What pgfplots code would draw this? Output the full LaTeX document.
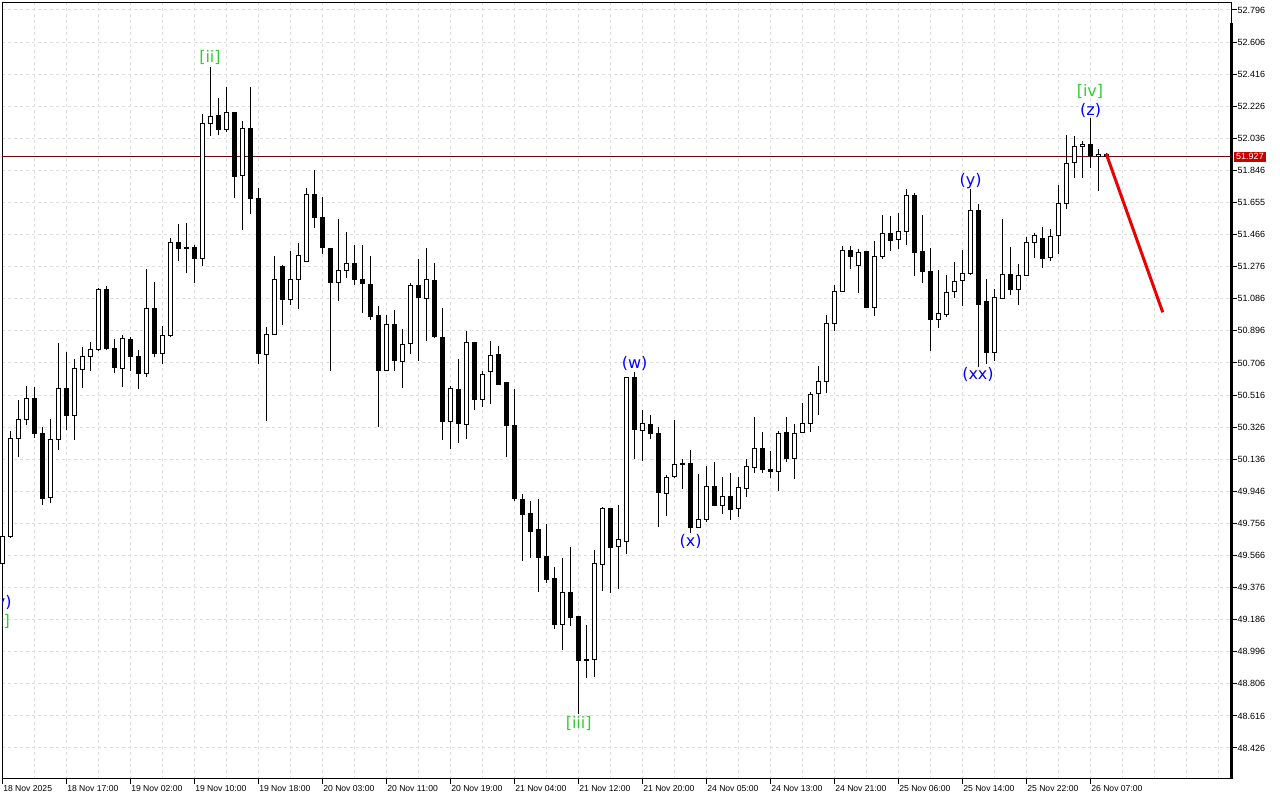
\documentclass[border=0pt]{standalone}
\usepackage{pgfplots}
\usepackage{pgfplotstable}
\usepackage{fontspec}
\setmainfont{Liberation Sans}
\newfontfamily\wavefont{DejaVu Sans}
\pgfplotsset{compat=1.18}
\definecolor{gridc}{RGB}{222,222,222}
\definecolor{wgreen}{RGB}{50,205,50}
\definecolor{wblue}{RGB}{0,0,255}
\definecolor{pline}{RGB}{110,10,10}
\definecolor{pbox}{RGB}{200,0,0}
\definecolor{arrowred}{RGB}{235,0,0}

\pgfplotstableread{
k o h l c
0 49.516 49.693 49.504 49.681
1 49.677 50.303 49.669 50.260
2 50.260 50.487 50.150 50.372
3 50.372 50.570 50.339 50.497
4 50.497 50.565 50.260 50.289
5 50.289 50.329 49.867 49.903
6 49.909 50.374 49.879 50.254
7 50.254 50.826 50.191 50.556
8 50.556 50.773 50.309 50.394
9 50.394 50.728 50.250 50.674
10 50.668 50.799 50.556 50.747
11 50.743 50.832 50.660 50.787
12 50.785 51.152 50.779 51.142
13 51.142 51.162 50.783 50.789
14 50.793 50.848 50.645 50.680
15 50.674 50.870 50.562 50.852
16 50.846 50.858 50.660 50.743
17 50.747 50.783 50.550 50.645
18 50.645 51.262 50.625 51.026
19 51.030 51.184 50.740 50.759
20 50.763 50.925 50.700 50.870
21 50.867 51.444 50.858 51.420
22 51.420 51.529 51.311 51.383
23 51.388 51.533 51.237 51.385
24 51.391 51.404 51.178 51.323
25 51.323 52.180 51.282 52.125
26 52.125 52.457 52.052 52.167
27 52.173 52.273 52.054 52.087
28 52.087 52.340 52.072 52.190
29 52.190 52.190 51.681 51.809
30 51.815 52.139 51.493 52.096
31 52.096 52.338 51.588 51.679
32 51.681 51.740 50.700 50.763
33 50.757 50.917 50.364 50.876
34 50.876 51.339 50.872 51.203
35 51.280 51.284 50.933 51.083
36 51.083 51.369 51.051 51.203
37 51.201 51.414 51.027 51.343
38 51.308 51.740 51.308 51.701
39 51.701 51.849 51.507 51.566
40 51.570 51.687 51.353 51.388
41 51.385 51.385 50.660 51.181
42 51.184 51.557 51.075 51.255
43 51.255 51.480 51.211 51.296
44 51.296 51.403 51.169 51.201
45 51.203 51.403 51.004 51.175
46 51.173 51.338 50.962 50.980
47 50.984 51.043 50.329 50.660
48 50.660 50.990 50.660 50.931
49 50.931 51.020 50.660 50.719
50 50.716 50.907 50.560 50.816
51 50.822 51.178 50.761 51.166
52 51.166 51.320 50.719 51.092
53 51.086 51.387 50.838 51.201
54 51.195 51.298 50.856 50.860
55 50.858 51.031 50.250 50.358
56 50.358 50.570 50.196 50.556
57 50.550 50.729 50.232 50.346
58 50.343 50.895 50.256 50.828
59 50.828 50.828 50.427 50.488
60 50.488 50.657 50.447 50.639
61 50.657 50.836 50.465 50.751
62 50.757 50.806 50.575 50.581
63 50.591 50.591 50.149 50.334
64 50.337 50.552 49.890 49.903
65 49.900 49.930 49.535 49.810
66 49.812 49.889 49.553 49.707
67 49.717 49.900 49.352 49.553
68 49.557 49.752 49.401 49.423
69 49.431 49.498 49.132 49.156
70 49.156 49.549 49.006 49.347
71 49.347 49.616 49.148 49.198
72 49.202 49.202 48.626 48.943
73 48.950 49.153 48.839 48.944
74 48.949 49.598 48.848 49.516
75 49.514 49.855 49.358 49.845
76 49.847 49.847 49.346 49.612
77 49.620 49.865 49.369 49.662
78 49.648 50.621 49.573 50.621
79 50.621 50.653 50.138 50.313
80 50.307 50.426 50.126 50.349
81 50.343 50.396 50.254 50.289
82 50.289 50.325 49.736 49.940
83 49.934 50.042 49.802 50.029
84 50.032 50.368 50.027 50.106
85 50.111 50.140 49.961 50.105
86 50.112 50.189 49.701 49.730
87 49.733 50.048 49.733 49.780
88 49.778 50.094 49.766 49.976
89 49.976 50.119 49.861 49.861
90 49.863 50.029 49.812 49.916
91 49.916 50.053 49.776 49.837
92 49.845 50.031 49.796 49.970
93 49.964 50.137 49.915 50.094
94 50.086 50.384 50.056 50.201
95 50.201 50.297 50.056 50.076
96 50.078 50.183 50.023 50.064
97 50.064 50.305 49.950 50.289
98 50.295 50.384 50.122 50.140
99 50.140 50.343 50.019 50.289
100 50.293 50.467 50.289 50.349
101 50.349 50.534 50.299 50.522
102 50.528 50.688 50.398 50.597
103 50.595 50.990 50.528 50.941
104 50.941 51.166 50.897 51.130
105 51.130 51.399 51.130 51.373
106 51.373 51.399 51.264 51.335
107 51.284 51.379 51.122 51.361
108 51.363 51.367 51.033 51.033
109 51.033 51.428 50.986 51.338
110 51.335 51.582 51.323 51.474
111 51.474 51.576 51.371 51.434
112 51.438 51.592 51.383 51.486
113 51.486 51.734 51.406 51.699
114 51.699 51.714 51.221 51.359
115 51.363 51.582 51.178 51.246
116 51.250 51.385 50.777 50.962
117 50.962 51.256 50.915 51.000
118 50.994 51.227 50.980 51.124
119 51.130 51.304 51.092 51.189
120 51.195 51.375 51.045 51.237
121 51.234 51.736 51.225 51.610
122 51.610 51.647 50.684 51.051
123 51.071 51.203 50.698 50.767
124 50.767 51.146 50.719 51.095
125 51.089 51.558 51.089 51.231
126 51.231 51.393 51.108 51.142
127 51.142 51.292 51.049 51.225
128 51.225 51.452 51.225 51.420
129 51.420 51.477 51.329 51.460
130 51.444 51.513 51.270 51.326
131 51.332 51.497 51.310 51.456
132 51.462 51.760 51.351 51.651
133 51.651 52.056 51.616 51.888
134 51.894 52.050 51.803 51.989
135 51.989 52.020 51.803 52.001
136 52.001 52.155 51.863 51.932
137 51.928 51.975 51.726 51.940
138 51.943 51.947 51.927 51.927
}\candles

\pgfplotsset{
  common/.style={
    at={(0,0)}, anchor=south west,
    scale only axis, width=1229.2pt, height=776.3pt,
    xmin=0, xmax=153.65, ymin=48.2424, ymax=52.8392,
  },
}
\tikzset{
  tickfont/.style={font=\fontsize{8.6}{10}\selectfont},
  ytickfont/.style={font=\fontsize{9}{10}\selectfont},
  wave/.style={font=\wavefont\fontsize{16}{18}\selectfont, anchor=center, inner sep=0pt},
}

\begin{document}
\begin{tikzpicture}
\path[use as bounding box] (-2.3pt,-21pt) rectangle (1277.7pt,779pt);

% axis 1: frame, grid, ticks, wicks, price line, labels
\begin{axis}[common,
  axis line style={black, line width=1pt},
  xtick={0,8,...,136},
  xticklabels={18 Nov 2025, 18 Nov 17:00, 19 Nov 02:00, 19 Nov 10:00, 19 Nov 18:00, 20 Nov 03:00, 20 Nov 11:00, 20 Nov 19:00, 21 Nov 04:00, 21 Nov 12:00, 21 Nov 20:00, 24 Nov 05:00, 24 Nov 13:00, 24 Nov 21:00, 25 Nov 06:00, 25 Nov 14:00, 25 Nov 22:00, 26 Nov 07:00},
  minor xtick={4,8,...,152},
  ytick={52.796,52.606,52.416,52.226,52.036,51.846,51.655,51.466,51.276,51.086,50.896,50.706,50.516,50.326,50.136,49.946,49.756,49.566,49.376,49.186,48.996,48.806,48.616,48.426},
  yticklabels={52.796,52.606,52.416,52.226,52.036,51.846,51.655,51.466,51.276,51.086,50.896,50.706,50.516,50.326,50.136,49.946,49.756,49.566,49.376,49.186,48.996,48.806,48.616,48.426},
  xtick pos=left, ytick pos=right, yticklabel pos=right,
  tick align=outside,
  major tick length=5pt, minor tick length=0pt,
  tick style={black, line width=1pt},
  xmajorgrids, xminorgrids, ymajorgrids,
  major grid style={gridc, dash pattern=on 3pt off 3pt, line width=1pt},
  minor grid style={gridc, dash pattern=on 3pt off 3pt, line width=1pt},
  xticklabel style={tickfont, anchor=north west, inner sep=0pt, xshift=0.8pt, yshift=-1.5pt},
  yticklabel style={ytickfont, anchor=west, inner sep=0pt, xshift=1pt},
]
\addplot[pline, line width=0.7pt, forget plot] coordinates {(0,51.927) (153.65,51.927)};
\addplot[draw=none, mark=none, forget plot,
  error bars/.cd, y dir=plus, y explicit, error mark=none,
  error bar style={draw=black, line width=1pt, solid}]
  table[x=k, y=l, y error plus expr={\thisrow{h}-\thisrow{l}}] {\candles};

\node[wave, text=wgreen] at (axis cs:25.96,52.512) {[ii]};
\node[wave, text=wgreen] at (axis cs:72.05,48.574) {[iii]};
\node[wave, text=wblue] at (axis cs:79.03,50.700) {(w)};
\node[wave, text=wblue] at (axis cs:86.03,49.649) {(x)};
\node[wave, text=wblue] at (axis cs:121.03,51.783) {(y)};
\node[wave, text=wblue] at (axis cs:121.96,50.635) {(xx)};
\node[wave, text=wgreen] at (axis cs:135.96,52.315) {[iv]};
\node[wave, text=wblue] at (axis cs:136.03,52.201) {(z)};
\node[wave, text=wblue] at (axis cs:-0.2,49.285) {(y)};
\node[wave, text=wgreen] at (axis cs:-0.1,49.175) {[i]};
\end{axis}

% axis 2: candle bodies
\begin{axis}[common, axis lines=none, clip=false, ybar stacked, bar width=4pt]
\addplot[fill=none, draw=none] table[x=k, y expr={min(\thisrow{o},\thisrow{c})}] {\candles};
\addplot[fill=white, draw=black, line width=1pt] table[x=k, y expr={max(\thisrow{c}-\thisrow{o},0)}] {\candles};
\addplot[fill=black, draw=black, line width=1pt] table[x=k, y expr={max(\thisrow{o}-\thisrow{c},0)}] {\candles};
\end{axis}

% axis 3: overlays
\begin{axis}[common, axis lines=none, clip=false]
\addplot[arrowred, line width=3pt] coordinates {(138,51.943) (145.05,51.006)};
\draw[black, line width=2.6pt] (axis cs:153.65,52.719) -- (axis cs:153.65,48.2424);
\node[fill=pbox, text=white, anchor=west, inner xsep=2pt, inner ysep=1.7pt,
  text height=6.4pt, text depth=0pt, ytickfont, xshift=2.5pt] at (axis cs:153.65,51.927) {51.927};
\end{axis}
\end{tikzpicture}
\end{document}
